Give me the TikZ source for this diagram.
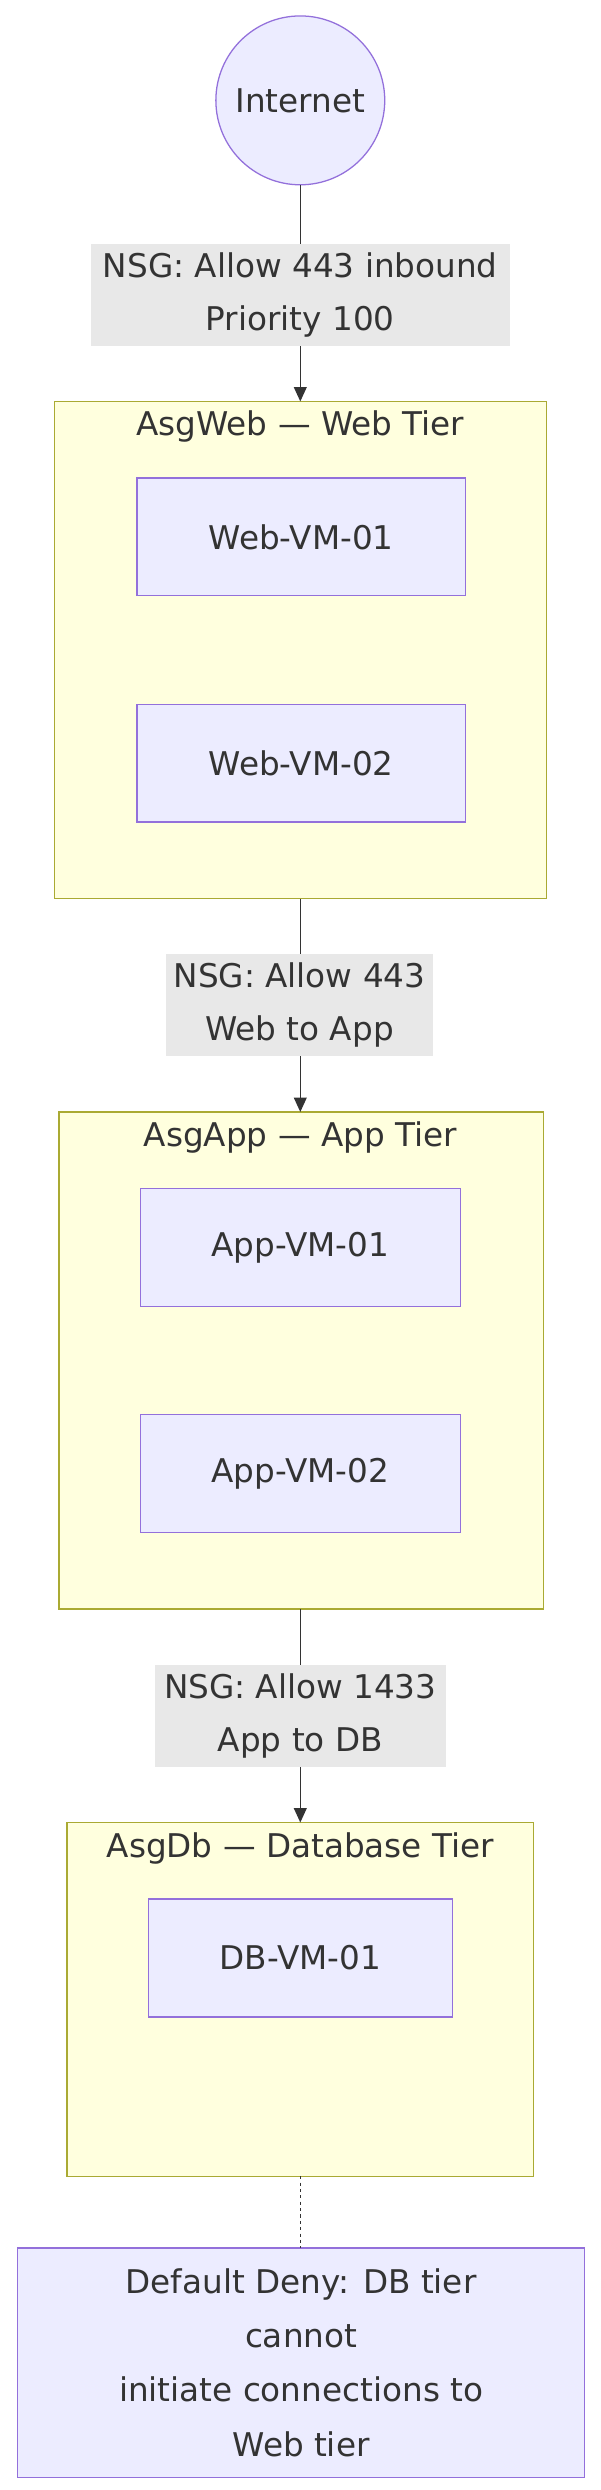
\documentclass[tikz,border=0pt]{standalone}
\usepackage{fontspec}
\setmainfont{DejaVu Sans}
\usetikzlibrary{arrows.meta}
\definecolor{nfill}{HTML}{ECECFF}
\definecolor{nstroke}{HTML}{9370DB}
\definecolor{cfill}{HTML}{FFFFDE}
\definecolor{cstroke}{HTML}{AAAA33}
\definecolor{lbl}{HTML}{E8E8E8}
\definecolor{txt}{HTML}{333333}
\begin{document}
\begin{tikzpicture}[x=1pt,y=-1pt,
  every node/.style={font=\fontsize{20.5}{33}\selectfont,text=txt},
  vm/.style={draw=nstroke,fill=nfill,line width=0.8pt},
  cl/.style={draw=cstroke,fill=cfill,line width=0.8pt},
  lb/.style={fill=lbl,align=center,inner sep=0pt},
  arr/.style={draw=txt,line width=0.9pt,-{Triangle[length=9pt,width=8pt]}}]
\useasboundingbox (0,0) rectangle (377,1563);
% Internet
\node[circle,draw=nstroke,fill=nfill,line width=0.8pt,minimum size=106pt,inner sep=0pt] (inet) at (188.5,63) {Internet};
% clusters
\draw[cl] (34,252) rectangle (343,564);
\node (tweb) at (188.5,268) {AsgWeb — Web Tier};
\draw[cl] (37,698) rectangle (341,1010);
\node (tapp) at (188.5,714) {AsgApp — App Tier};
\draw[cl] (42,1144) rectangle (335,1366);
\node (tdb) at (188.5,1160) {AsgDb — Database Tier};
\coordinate (webT) at (188.5,252); \coordinate (webB) at (188.5,564);
\coordinate (appT) at (188.5,698); \coordinate (appB) at (188.5,1010);
\coordinate (dbT) at (188.5,1144); \coordinate (dbB) at (188.5,1366);
% VMs
\draw[vm] (86,300) rectangle (292,374); \node (w1) at (189,337) {Web-VM-01};
\draw[vm] (86,442) rectangle (292,516); \node (w2) at (189,479) {Web-VM-02};
\draw[vm] (88,746) rectangle (289,820); \node (a1) at (188.5,783) {App-VM-01};
\draw[vm] (88,888) rectangle (289,962); \node (a2) at (188.5,925) {App-VM-02};
\draw[vm] (93,1192) rectangle (284,1266); \node (d1) at (188.5,1229) {DB-VM-01};
\draw[vm] (11,1411) rectangle (367,1555);
\node[align=center,font=\fontsize{20.5}{34}\selectfont] (deny) at (189,1483) {Default Deny: DB tier\\cannot\\initiate connections to\\Web tier};
\coordinate (denyT) at (188.5,1411);
% edges
\draw[arr] (inet.south) -- (webT);
\draw[arr] (webB) -- (appT);
\draw[arr] (appB) -- (dbT);
\draw[draw=txt,line width=0.9pt,dash pattern=on 2pt off 2pt] (dbB) -- (denyT);
% labels
\node[lb,minimum width=263pt,minimum height=64pt] (l1) at (188.5,185) {NSG: Allow 443 inbound\\Priority 100};
\node[lb,minimum width=168pt,minimum height=64pt] (l2) at (188,631) {NSG: Allow 443\\Web to App};
\node[lb,minimum width=183pt,minimum height=64pt] (l3) at (188.5,1077) {NSG: Allow 1433\\App to DB};
\end{tikzpicture}
\end{document}
